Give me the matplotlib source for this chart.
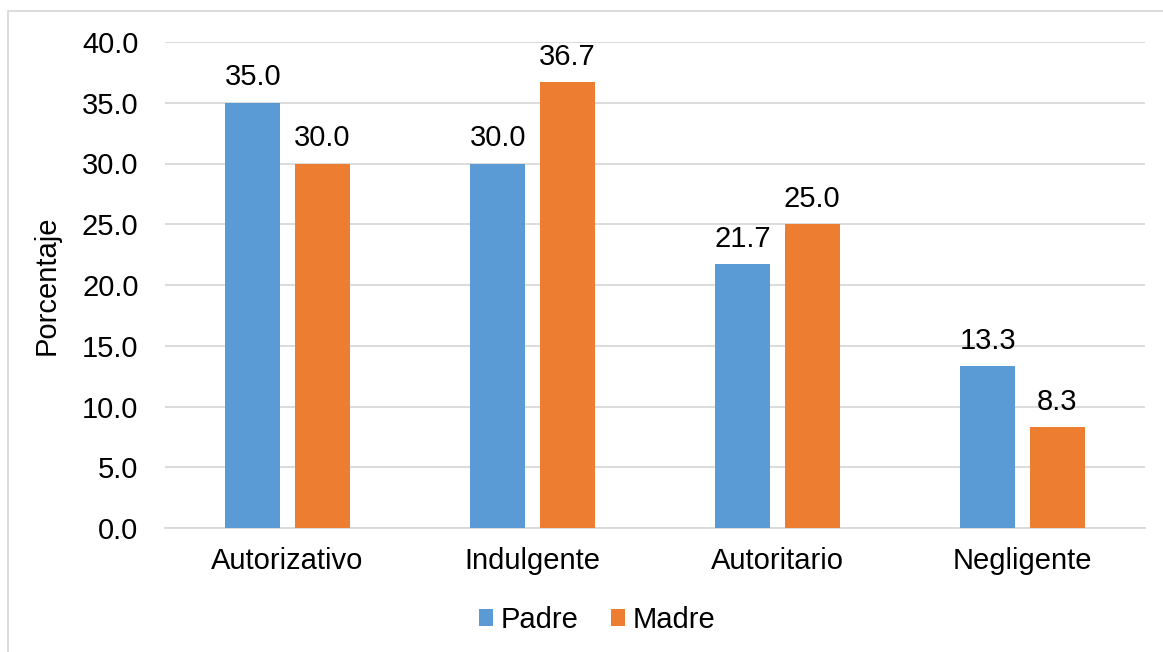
import matplotlib
matplotlib.use("Agg")
import matplotlib.pyplot as plt
import numpy as np
from matplotlib.patches import Rectangle

categories = ["Autorizativo", "Indulgente", "Autoritario", "Negligente"]
padre = [35.0, 30.0, 21.7, 13.3]
madre = [30.0, 36.7, 25.0, 8.3]
series_names = ["Padre", "Madre"]
yticks = [0, 5, 10, 15, 20, 25, 30, 35, 40]

plt.rcParams['font.family'] = ['Liberation Sans', 'DejaVu Sans']

W, H = 1163, 652
FS = 21
fig = plt.figure(figsize=(W/100, H/100), dpi=100)
ax = fig.add_axes([165/W, 1-528/H, 980/W, (528-42)/H])

x = np.arange(len(categories))
bw = 0.224
off = 0.142
c1, c2 = "#5B9BD5", "#ED7D31"
b1 = ax.bar(x - off, padre, bw, color=c1, label=series_names[0], zorder=3)
b2 = ax.bar(x + off, madre, bw, color=c2, label=series_names[1], zorder=3)

for bars, vals in ((b1, padre), (b2, madre)):
    for r, v in zip(bars, vals):
        ax.text(r.get_x() + r.get_width()/2, v + 0.95, f"{v:.1f}", ha="center", va="bottom",
                fontsize=FS, color="#000000")

ax.set_xlim(-0.5, 3.5)
ax.set_ylim(0, 40)
ax.set_yticks(yticks)
ax.set_yticklabels([f"{v:.1f}" for v in yticks], fontsize=FS)
ax.set_xticks(x)
ax.set_xticklabels(categories, fontsize=FS)
ax.tick_params(axis="y", length=0, pad=19)
ax.tick_params(axis="x", length=0, pad=14)
ax.grid(axis="y", color="#D9D9D9", linewidth=1.3, zorder=0)
for s in ["top", "right", "left"]:
    ax.spines[s].set_visible(False)
ax.spines["bottom"].set_color("#D9D9D9")
ax.spines["bottom"].set_linewidth(1.3)
ax.set_ylabel("Porcentaje", fontsize=FS)
ax.yaxis.set_label_coords((61-165)/980, 0.5)

leg = fig.legend(handles=[b1, b2], labels=series_names, loc="center", bbox_to_anchor=(597/W, 1-620/H),
                 ncol=2, frameon=False, fontsize=FS, handlelength=0.5, handleheight=0.5,
                 handletextpad=0.25, columnspacing=1.1)

# outer chart border (light gray)
fig.add_artist(Rectangle((8/W, -0.1), 1.2, 1 - 11/H + 0.1, transform=fig.transFigure,
                         fill=False, edgecolor="#D9D9D9", linewidth=1.3))

fig.savefig("out.png", dpi=100, facecolor="white")
